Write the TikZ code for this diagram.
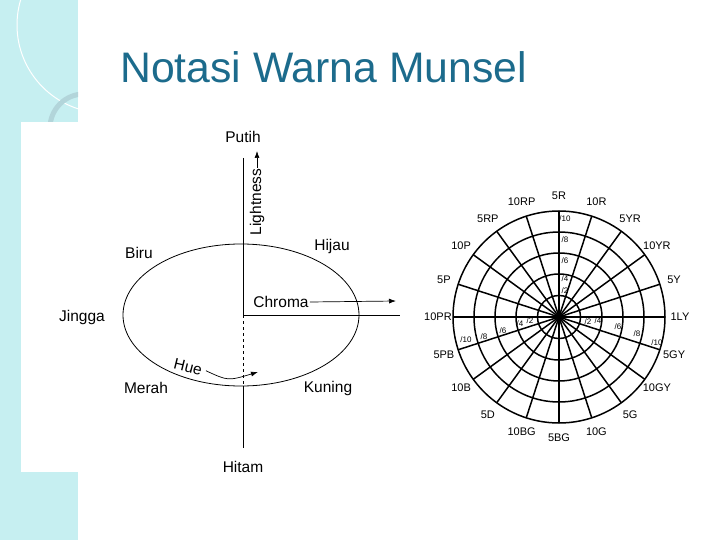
\documentclass[tikz,border=0pt]{standalone}
\usepackage{fontspec}
\setmainfont{Liberation Sans}
\usetikzlibrary{arrows.meta, positioning, calc}
\definecolor{titleblue}{HTML}{1C6B8C}
\definecolor{stripcyan}{HTML}{C6EFF1}
\definecolor{ringgray}{HTML}{B2D5DA}

\begin{document}
\begin{tikzpicture}[x=1pt, y=-1pt,
  every node/.style={font=\fontsize{15.5}{18}\selectfont, inner sep=1pt},
  axis/.style={black, line width=0.8pt},
  arrow/.style={-{Latex[length=7pt, width=5pt]}, black, line width=0.7pt},
  huelbl/.style={font=\fontsize{11}{13}\selectfont, inner sep=0pt},
  chroma/.style={font=\fontsize{8}{9}\selectfont, inner sep=0pt},
  web/.style={black, line width=1.5pt},
]

% Background of the slide
\fill[white] (0,0) rectangle (720,540);
\fill[stripcyan] (0,0) rectangle (78,540);
\begin{scope}
  \clip (0,0) rectangle (78,540);
  \draw[white, line width=1pt] (105,25) circle (88);
  \draw[ringgray, line width=5pt] (84,128) circle (34);
\end{scope}
\fill[white] (21,122) rectangle (700,472);

% Title
\node[anchor=base west, text=titleblue, inner sep=0pt,
      font=\fontsize{42.7}{50}\selectfont] (title) at (120,83) {Notasi Warna Munsel};

% Left diagram — axes
\coordinate (ctr)   at (243,315);
\coordinate (vtop)  at (243,158);
\coordinate (vdash) at (243,386);
\coordinate (vbot)  at (243,448);
\coordinate (hend)  at (400,315);
\draw[axis] (vtop) -- (ctr);
\draw[axis, dashed] (ctr) -- (vdash);
\draw[axis] (vdash) -- (vbot);
\draw[axis] (ctr) -- (hend);
\draw[axis] (241,315) ellipse (118 and 71);

% Left diagram — labels
\node (putih)  at (243,137) {Putih};
\node (hitam)  at (243,467) {Hitam};
\node (biru)   at (139,253) {Biru};
\node (hijau)  at (332,246) {Hijau};
\node (jingga) at (82,317)  {Jingga};
\node (merah)  at (146,388) {Merah};
\node (kuning) at (328,388) {Kuning};

% Lightness, Chroma and Hue arrows
\node[rotate=90] (light) at (257,202) {Lightness};
\coordinate (lighttip) at (257,151);
\draw[arrow] (light.east) -- (lighttip);
\node (chroma) at (281,302) {Chroma};
\coordinate (chromatip) at (396,301);
\draw[arrow] (chroma.east) -- (chromatip);
\node[rotate=-14] (hue) at (188,367) {Hue};
\coordinate (huetip) at (258,372);
\draw[arrow] ([xshift=3pt]hue.east) .. controls (228,381) .. (huetip);

% Munsell hue wheel
\coordinate (wheel) at (559,317);
\foreach \r in {21.5,43,64,85,106}
  \draw[web] (wheel) circle (\r);
\foreach \a in {0,18,...,342}
  \draw[web] (wheel) -- ++(\a:106);

% Hue names round the wheel
\foreach \lab [count=\i from 0] in {5R,10R,5YR,10YR,5Y,1LY,5GY,10GY,5G,10G,
                                   5BG,10BG,5D,10B,5PB,10PR,5P,10P,5RP,10RP}
  \node[huelbl] (h\i) at ([shift={(-90+18*\i:121)}]wheel) {\lab};

% Chroma steps
\foreach \yy/\v in {219/10, 240/8, 261/6, 279/4, 291/2}
  \node[chroma] at (565,\yy) {/\v};
\foreach \xx/\yy/\v in {466/340/10, 484/337/8, 503/331/6, 520/324/4, 530/321/2}
  \node[chroma] at (\xx,\yy) {/\v};
\foreach \xx/\yy/\v in {588/322/2, 598/321/4, 618/327/6, 637/334/8, 657/343/10}
  \node[chroma] at (\xx,\yy) {/\v};

\end{tikzpicture}
\end{document}
